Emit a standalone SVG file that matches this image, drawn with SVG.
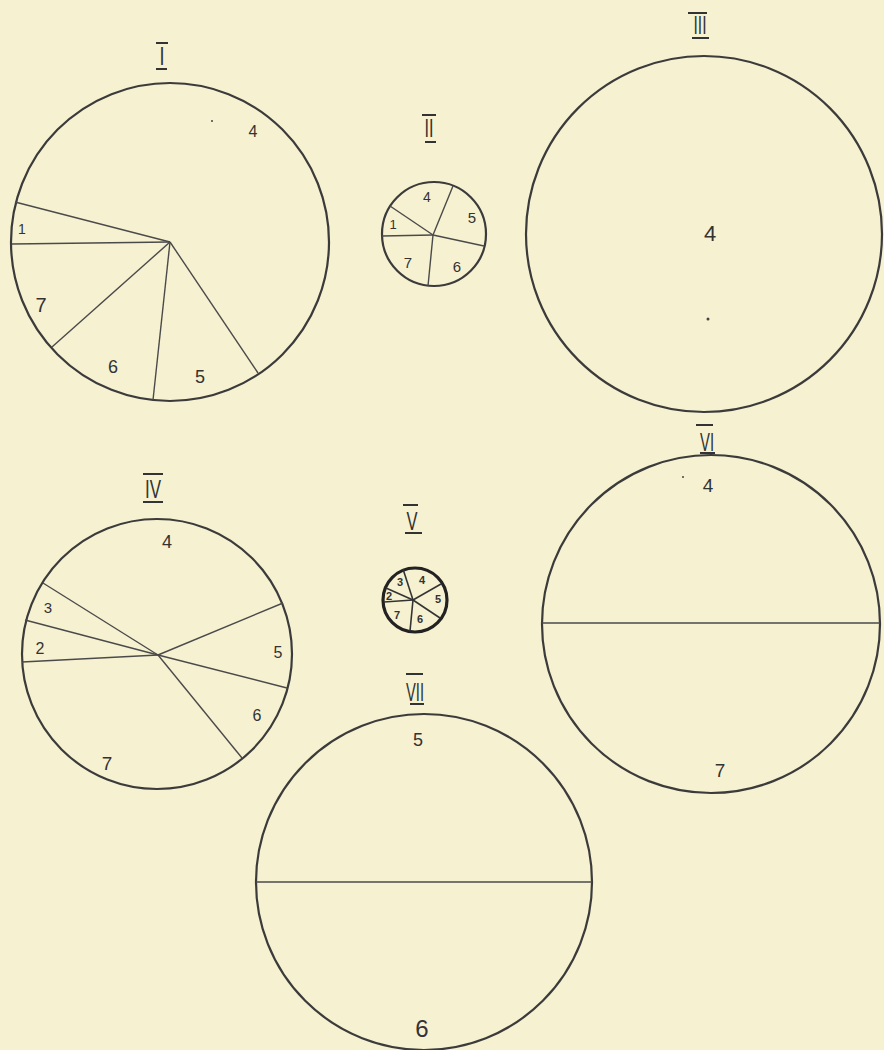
<svg xmlns="http://www.w3.org/2000/svg" width="884" height="1050" viewBox="0 0 884 1050">
<style>
.bg{fill:#f6f1d1}
.c{fill:none;stroke:#3b3b3b;stroke-width:2.2}
.cv{fill:none;stroke:#222;stroke-width:3.2}
.r{stroke:#4a4a4a;stroke-width:1.4;fill:none}
.rv{stroke:#333;stroke-width:1.6;fill:none}
.bar{stroke:#333;stroke-width:2}
.dot{fill:#444}
.t{font-family:"Liberation Sans",Arial,sans-serif;fill:#333;text-anchor:middle}
.num{font-family:"Liberation Sans",Arial,sans-serif;fill:#333;text-anchor:middle;font-size:26px}
</style>
<rect class="bg" x="0" y="0" width="884" height="1050"/>
<g id="chart-I">
<line class="bar" x1="156" y1="43" x2="168" y2="43"/>
<text class="num" x="162" y="65" textLength="5" lengthAdjust="spacingAndGlyphs">I</text>
<line class="bar" x1="156" y1="69" x2="167" y2="69"/>
<circle class="c" cx="170" cy="242" r="159"/>
<line class="r" x1="170" y1="242" x2="15" y2="202"/>
<line class="r" x1="170" y1="242" x2="12" y2="244"/>
<line class="r" x1="170" y1="242" x2="52" y2="347"/>
<line class="r" x1="170" y1="242" x2="153" y2="400"/>
<line class="r" x1="170" y1="242" x2="258" y2="373"/>
<text class="t" x="253" y="137" font-size="16">4</text>
<text class="t" x="22" y="234" font-size="14">1</text>
<text class="t" x="41" y="312" font-size="20">7</text>
<text class="t" x="113" y="373" font-size="18">6</text>
<text class="t" x="200" y="383" font-size="18">5</text>
<circle class="dot" cx="212" cy="121" r="1"/>
</g>
<g id="chart-II">
<line class="bar" x1="422" y1="115" x2="436" y2="115"/>
<text class="num" x="429" y="137" textLength="9" lengthAdjust="spacingAndGlyphs">II</text>
<line class="bar" x1="425" y1="142" x2="436" y2="142"/>
<circle class="c" cx="434" cy="234" r="52"/>
<line class="r" x1="433" y1="235" x2="453" y2="186"/>
<line class="r" x1="433" y1="235" x2="390" y2="206"/>
<line class="r" x1="433" y1="235" x2="382" y2="236"/>
<line class="r" x1="433" y1="235" x2="428" y2="286"/>
<line class="r" x1="433" y1="235" x2="484" y2="246"/>
<text class="t" x="427" y="202" font-size="14">4</text>
<text class="t" x="472" y="223" font-size="15">5</text>
<text class="t" x="393" y="229" font-size="13">1</text>
<text class="t" x="408" y="268" font-size="15">7</text>
<text class="t" x="457" y="272" font-size="15">6</text>
</g>
<g id="chart-III">
<line class="bar" x1="688" y1="13" x2="707" y2="13"/>
<text class="num" x="700" y="34" textLength="13" lengthAdjust="spacingAndGlyphs">III</text>
<line class="bar" x1="692" y1="38" x2="709" y2="38"/>
<circle class="c" cx="704" cy="234" r="178"/>
<text class="t" x="710" y="241" font-size="22">4</text>
<circle class="dot" cx="708" cy="319" r="1.5"/>
</g>
<g id="chart-IV">
<line class="bar" x1="143" y1="474" x2="163" y2="474"/>
<text class="num" x="153" y="498" textLength="16" lengthAdjust="spacingAndGlyphs">IV</text>
<line class="bar" x1="143" y1="502" x2="163" y2="502"/>
<circle class="c" cx="157" cy="654" r="135"/>
<line class="r" x1="158" y1="655" x2="43" y2="583"/>
<line class="r" x1="158" y1="655" x2="25" y2="620"/>
<line class="r" x1="158" y1="655" x2="22" y2="662"/>
<line class="r" x1="158" y1="655" x2="283" y2="603"/>
<line class="r" x1="158" y1="655" x2="287" y2="688"/>
<line class="r" x1="158" y1="655" x2="242" y2="758"/>
<text class="t" x="167" y="548" font-size="18">4</text>
<text class="t" x="48" y="613" font-size="15">3</text>
<text class="t" x="40" y="654" font-size="16">2</text>
<text class="t" x="278" y="658" font-size="16">5</text>
<text class="t" x="257" y="721" font-size="16">6</text>
<text class="t" x="107" y="770" font-size="19">7</text>
</g>
<g id="chart-V">
<line class="bar" x1="403" y1="505" x2="418" y2="505"/>
<text class="num" x="412" y="530" textLength="11" lengthAdjust="spacingAndGlyphs">V</text>
<line class="bar" x1="405" y1="533" x2="422" y2="533"/>
<circle class="cv" cx="415" cy="600" r="32"/>
<line class="rv" x1="413" y1="600" x2="403" y2="569"/>
<line class="rv" x1="413" y1="600" x2="386" y2="588"/>
<line class="rv" x1="413" y1="600" x2="384" y2="602"/>
<line class="rv" x1="413" y1="600" x2="441" y2="584"/>
<line class="rv" x1="413" y1="600" x2="440" y2="618"/>
<line class="rv" x1="413" y1="600" x2="410" y2="631"/>
<text class="t" x="400" y="586" font-size="11" font-weight="bold">3</text>
<text class="t" x="422" y="584" font-size="11" font-weight="bold">4</text>
<text class="t" x="389" y="600" font-size="11" font-weight="bold">2</text>
<text class="t" x="438" y="603" font-size="11" font-weight="bold">5</text>
<text class="t" x="397" y="619" font-size="11" font-weight="bold">7</text>
<text class="t" x="420" y="623" font-size="11" font-weight="bold">6</text>
</g>
<g id="chart-VI">
<line class="bar" x1="696" y1="425" x2="713" y2="425"/>
<text class="num" x="707" y="451" textLength="14" lengthAdjust="spacingAndGlyphs">VI</text>
<line class="bar" x1="700" y1="453" x2="715" y2="453"/>
<circle class="c" cx="711" cy="624" r="169"/>
<line class="r" x1="542" y1="623" x2="880" y2="623"/>
<text class="t" x="708" y="492" font-size="19">4</text>
<text class="t" x="720" y="777" font-size="19">7</text>
<circle class="dot" cx="683" cy="477" r="1"/>
</g>
<g id="chart-VII">
<line class="bar" x1="406" y1="674" x2="423" y2="674"/>
<text class="num" x="415" y="701" textLength="18" lengthAdjust="spacingAndGlyphs">VII</text>
<line class="bar" x1="410" y1="704" x2="424" y2="704"/>
<circle class="c" cx="424" cy="882" r="168"/>
<line class="r" x1="256" y1="882" x2="592" y2="882"/>
<text class="t" x="418" y="746" font-size="18">5</text>
<text class="t" x="422" y="1037" font-size="24">6</text>
</g>
<g id="connectors"/>
</svg>
